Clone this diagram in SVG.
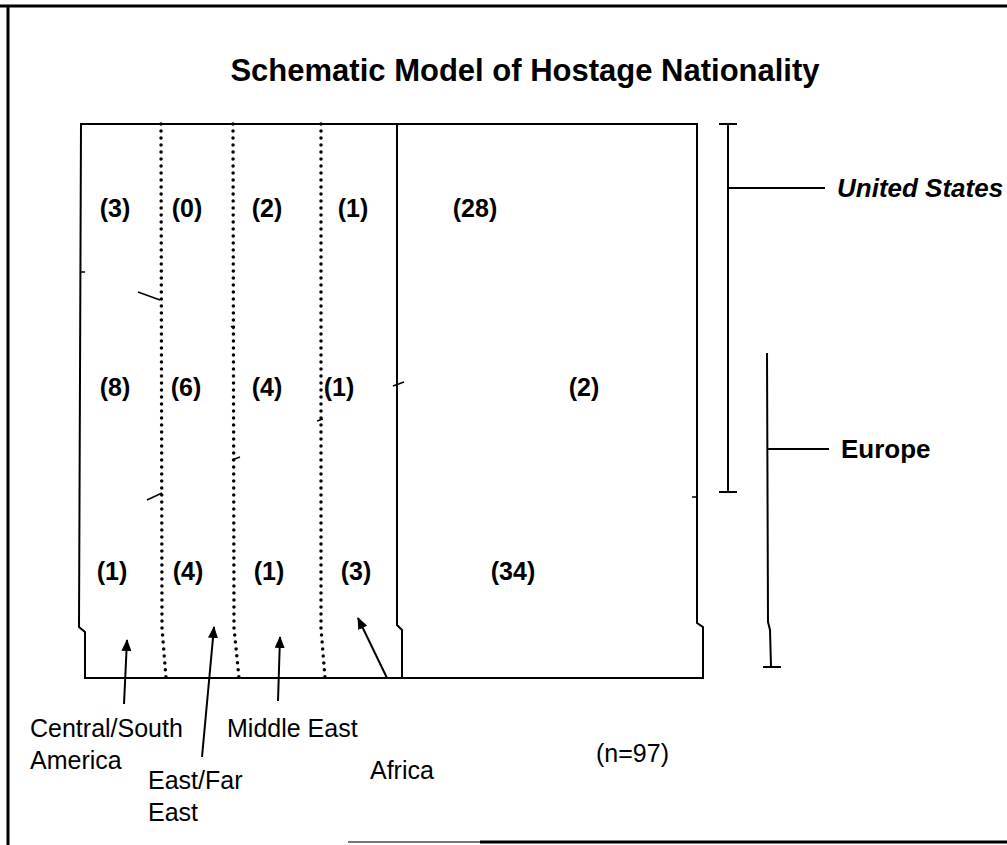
<svg xmlns="http://www.w3.org/2000/svg" width="1007" height="845" viewBox="0 0 1007 845">
<defs>
<style>
.ln{stroke:#000;stroke-width:2;fill:none}
.thin{stroke:#000;stroke-width:1.5;fill:none}
.dot{stroke:#000;stroke-width:3.5;stroke-linecap:round;stroke-dasharray:0 7;fill:none}
.num{font-family:"Liberation Sans",Arial,sans-serif;font-weight:bold;font-size:25px;text-anchor:middle;fill:#000}
.lab{font-family:"Liberation Sans",Arial,sans-serif;font-size:25px;fill:#000}
.key{font-family:"Liberation Sans",Arial,sans-serif;font-weight:bold;font-size:26px;fill:#000}
.title{font-family:"Liberation Sans",Arial,sans-serif;font-weight:bold;font-size:31px;text-anchor:middle;fill:#000}
</style>
<marker id="ah" viewBox="0 0 12 10" refX="11" refY="5" markerWidth="12" markerHeight="10" markerUnits="userSpaceOnUse" orient="auto">
<path d="M0,0 L12,5 L0,10 z" fill="#000"/>
</marker>
</defs>
<rect width="1007" height="845" fill="#fff"/>
<g id="frame">
<line x1="0" y1="6" x2="1007" y2="6" stroke="#000" stroke-width="3"/>
<line x1="8" y1="5" x2="8" y2="845" stroke="#000" stroke-width="3"/>
<line x1="348" y1="842" x2="480" y2="842" stroke="#777" stroke-width="2"/>
<line x1="480" y1="842" x2="1007" y2="842" stroke="#000" stroke-width="3"/>
</g>
<text id="title" class="title" x="525" y="81">Schematic Model of Hostage Nationality</text>
<g id="box">
<path class="ln" d="M81,124 L697,124 L697,623 L703,627 L703,678 L85,678 L85,632 L79,627 Z"/>
<path class="ln" d="M397,124 L397,625 L402,630 L402,678"/>
<path class="dot" d="M161,124 L162,628 L166,678"/>
<path class="dot" d="M233,124 L234,628 L239,678"/>
<path class="dot" d="M321,124 L321,628 L325,678"/>
<g class="thin">
<line x1="80" y1="272" x2="85" y2="272"/>
<line x1="138" y1="292" x2="160" y2="300"/>
<line x1="231" y1="326" x2="234" y2="329"/>
<line x1="393" y1="386" x2="404" y2="382"/>
<line x1="317" y1="421" x2="323" y2="419"/>
<line x1="232" y1="460" x2="240" y2="457"/>
<line x1="147" y1="500" x2="162" y2="493"/>
<line x1="692" y1="497" x2="697" y2="497"/>
</g>
</g>
<g id="cells">
<text class="num" x="115" y="217">(3)</text>
<text class="num" x="187" y="217">(0)</text>
<text class="num" x="267" y="217">(2)</text>
<text class="num" x="353" y="217">(1)</text>
<text class="num" x="475" y="217">(28)</text>
<text class="num" x="115" y="396">(8)</text>
<text class="num" x="186" y="396">(6)</text>
<text class="num" x="267" y="396">(4)</text>
<text class="num" x="339" y="396">(1)</text>
<text class="num" x="584" y="396">(2)</text>
<text class="num" x="112" y="580">(1)</text>
<text class="num" x="188" y="580">(4)</text>
<text class="num" x="269" y="580">(1)</text>
<text class="num" x="356" y="580">(3)</text>
<text class="num" x="513" y="580">(34)</text>
</g>
<g id="us-bracket">
<line class="ln" x1="728" y1="124" x2="728" y2="492"/>
<line class="ln" x1="719" y1="124" x2="737" y2="124"/>
<line class="ln" x1="719" y1="492" x2="737" y2="492"/>
<line class="ln" x1="728" y1="188" x2="825" y2="188"/>
<text class="key" x="837" y="197" font-style="italic">United States</text>
</g>
<g id="europe-bracket">
<path class="ln" d="M767,353 L768,622 L770,630 L771,667"/>
<line class="ln" x1="763" y1="667" x2="781" y2="667"/>
<line class="ln" x1="767" y1="449" x2="829" y2="449"/>
<text class="key" x="841" y="458">Europe</text>
</g>
<g id="connectors">
<line class="ln" x1="124" y1="704" x2="127" y2="640" marker-end="url(#ah)"/>
<line class="ln" x1="202" y1="757" x2="214" y2="627" marker-end="url(#ah)"/>
<line class="ln" x1="278" y1="701" x2="280" y2="637" marker-end="url(#ah)"/>
<line class="ln" x1="387" y1="678" x2="358" y2="618" marker-end="url(#ah)"/>
</g>
<g id="labels">
<text class="lab" x="30" y="737">Central/South</text>
<text class="lab" x="30" y="769">America</text>
<text class="lab" x="148" y="789">East/Far</text>
<text class="lab" x="148" y="821">East</text>
<text class="lab" x="227" y="737">Middle East</text>
<text class="lab" x="370" y="779">Africa</text>
<text class="lab" x="596" y="762">(n=97)</text>
</g>
</svg>
